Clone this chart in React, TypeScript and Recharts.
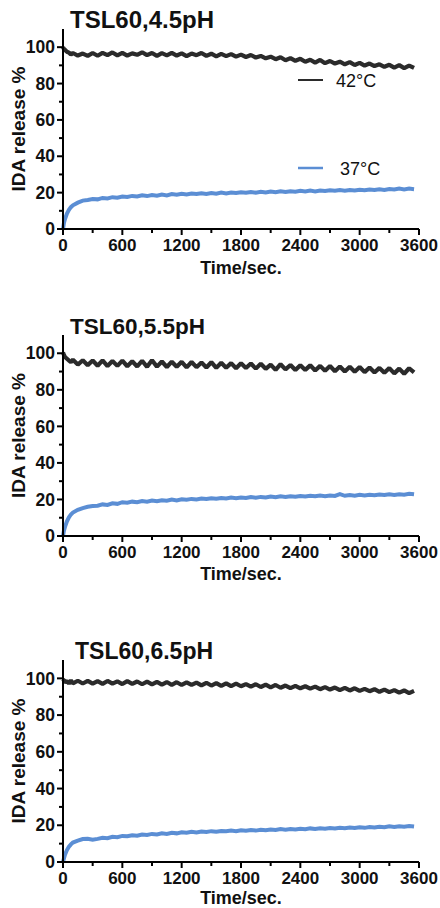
import React from 'react';
import { LineChart, Line, XAxis, YAxis } from 'recharts';

// time points (sec.)
const TIME = [
  0, 10, 20, 40, 60, 80, 100, 150, 200, 250,
  300, 350, 400, 450, 500, 550, 600, 650, 700, 750, 800, 850, 900, 950,
  1000, 1050, 1100, 1150, 1200, 1250, 1300, 1350, 1400, 1450, 1500, 1550,
  1600, 1650, 1700, 1750, 1800, 1850, 1900, 1950, 2000, 2050, 2100, 2150,
  2200, 2250, 2300, 2350, 2400, 2450, 2500, 2550, 2600, 2650, 2700, 2750,
  2800, 2850, 2900, 2950, 3000, 3050, 3100, 3150, 3200, 3250, 3300, 3350,
  3400, 3450, 3500, 3550,
];

const PH45_42 = [
  100, 99, 98.5, 97.5, 97, 96, 96.8, 95.4, 96.5, 95.2,
  96.8, 95.3, 96.9, 95.6, 97.1, 95.5, 96.9, 95.4, 96.6, 95.8, 97.2, 95.6, 96.8, 95.2,
  96.7, 95.5, 96.9, 95.4, 96.6, 95.1, 96.5, 95.6, 96.8, 95.2, 96.4, 95.0,
  96.3, 95.1, 96.2, 94.8, 95.9, 94.6, 95.7, 94.3, 95.2, 93.9, 94.8, 93.4,
  94.5, 92.8, 94.0, 92.5, 93.6, 92.0, 93.1, 91.5, 93.0, 91.2, 92.4, 91.0,
  92.0, 90.6, 91.8, 90.2, 91.4, 89.9, 91.0, 89.6, 90.6, 89.2, 90.3, 88.8,
  90.1, 88.5, 89.9, 88.6,
];
const PH45_37 = [
  0, 3.5, 5.5, 8.5, 10.5, 12, 13, 14.5, 15.6, 16.0,
  16.5, 16.3, 17.1, 16.8, 17.5, 17.2, 17.9, 17.6, 18.2, 17.9, 18.5, 18.1, 18.7, 18.3,
  18.9, 18.5, 19.2, 18.8, 19.4, 19.0, 19.5, 19.2, 19.7, 19.3, 19.8, 19.4,
  20.0, 19.6, 20.1, 19.8, 20.2, 19.9, 20.4, 20.0, 20.5, 20.1, 20.6, 20.2,
  20.7, 20.3, 20.8, 20.5, 21.0, 20.6, 21.1, 20.7, 21.2, 20.9, 21.3, 21.0,
  21.4, 21.1, 21.5, 21.2, 21.6, 21.3, 21.7, 21.4, 21.8, 21.5, 22.0, 21.7,
  22.3, 21.8, 22.2, 21.9,
];

const PH55_42 = [
  100.5, 99, 98, 97, 96, 95.2, 96.5, 93.8, 96.2, 93.5,
  96.0, 93.2, 96.1, 93.0, 95.8, 93.1, 96.0, 92.9, 95.6, 92.8, 95.9, 92.6, 96.2, 92.7,
  95.5, 92.5, 95.4, 92.6, 95.3, 92.3, 95.2, 92.4, 95.0, 92.2, 95.1, 92.0,
  94.8, 92.1, 94.6, 91.8, 94.5, 91.9, 94.4, 91.6, 94.3, 91.5, 93.8, 90.9,
  94.0, 91.2, 93.6, 90.8, 93.5, 90.9, 93.4, 90.6, 93.1, 90.4, 93.0, 90.2,
  92.8, 90.0, 92.6, 89.9, 92.5, 89.7, 92.2, 89.5, 92.0, 89.3, 91.9, 89.0,
  91.6, 88.8, 91.8, 89.5,
];
const PH55_37 = [
  0, 3, 5, 8, 10.2, 11.8, 12.8, 14.3, 15.3, 16.0,
  16.4, 16.6, 17.3, 17.0, 17.9, 17.6, 18.5, 18.2, 18.8, 18.5, 19.1, 18.8, 19.4, 19.0,
  19.6, 19.3, 19.9, 19.5, 20.1, 19.8, 20.3, 20.0, 20.5, 20.2, 20.7, 20.4,
  20.8, 20.5, 21.0, 20.7, 21.1, 20.8, 21.3, 21.0, 21.4, 21.1, 21.6, 21.2,
  21.7, 21.4, 21.8, 21.5, 21.9, 21.6, 22.0, 21.7, 22.1, 21.8, 22.2, 21.9,
  22.9, 22.0, 22.4, 22.1, 22.5, 22.2, 22.6, 22.3, 22.7, 22.4, 22.8, 22.5,
  22.9, 22.6, 23.1, 22.8,
];

const PH65_42 = [
  99.5, 98.8, 97.8, 98.6, 97.2, 98.9, 97.3, 98.7, 97.2, 98.6,
  97.1, 98.5, 97.0, 98.6, 97.1, 98.4, 96.9, 98.5, 97.0, 98.3, 96.8, 98.2, 96.7, 98.1,
  96.6, 98.0, 96.5, 97.9, 96.4, 97.8, 96.4, 97.7, 96.2, 97.6, 96.1, 97.4,
  95.9, 97.3, 95.8, 97.1, 95.7, 96.9, 95.5, 96.8, 95.3, 96.6, 95.1, 96.4,
  94.9, 96.1, 94.7, 95.9, 94.6, 95.7, 94.4, 95.5, 94.1, 95.2, 93.9, 95.0,
  93.6, 94.8, 93.4, 94.6, 93.2, 94.3, 93.0, 94.1, 92.7, 93.9, 92.5, 93.6,
  92.2, 93.4, 92.0, 93.2,
];
const PH65_37 = [
  0, 2, 4, 6.5, 8.3, 9.6, 10.6, 11.6, 12.5, 12.7,
  12.1, 12.6, 13.2, 13.0, 13.7, 13.5, 14.2, 14.0, 14.6, 14.3, 15.0, 14.7, 15.3, 15.0,
  15.6, 15.3, 15.9, 15.6, 16.2, 15.9, 16.4, 16.1, 16.6, 16.3, 16.8, 16.5,
  16.9, 16.7, 17.1, 16.8, 17.3, 17.0, 17.4, 17.1, 17.6, 17.3, 17.7, 17.4,
  17.9, 17.6, 18.0, 17.7, 18.1, 17.8, 18.3, 18.0, 18.4, 18.1, 18.5, 18.2,
  18.7, 18.4, 18.8, 18.5, 18.9, 18.6, 19.1, 18.8, 19.2, 18.9, 19.4, 19.1,
  19.5, 19.2, 19.6, 19.3,
];

const X_TICKS = [0, 300, 600, 900, 1200, 1500, 1800, 2100, 2400, 2700, 3000, 3300, 3600];
const Y_TICKS = [0, 10, 20, 30, 40, 50, 60, 70, 80, 90, 100];
const SERIES_NAMES = ['42°C', '37°C'];

const FONT = '"Liberation Sans", Arial, Helvetica, sans-serif';
const HOT = '#2b2b2b';
const COOL = '#5b8ed4';

const PANELS = [
  { title: 'TSL60,4.5pH', hot: PH45_42, cool: PH45_37, top: 29, plotH: 200, titleX: 70, titleSize: 24, xTitleY: 45 },
  { title: 'TSL60,5.5pH', hot: PH55_42, cool: PH55_37, top: 335, plotH: 201, titleX: 70, titleSize: 22.5, xTitleY: 44 },
  { title: 'TSL60,6.5pH', hot: PH65_42, cool: PH65_37, top: 660, plotH: 202, titleX: 75, titleSize: 23, xTitleY: 42 },
];

const XTick = (props: any) => {
  const { x, y, payload } = props;
  const ay = y - 11;
  const major = payload.value % 600 === 0;
  return (
    <g>
      <line x1={x} x2={x} y1={ay} y2={ay + (major ? 6 : 4)} stroke="#000" strokeWidth={2} />
      {major && (
        <text x={x} y={ay + 16} dy="0.355em" textAnchor="middle" fontFamily={FONT} fontWeight="bold" fontSize={17} fill="#111">
          {payload.value}
        </text>
      )}
    </g>
  );
};

const YTick = (props: any) => {
  const { x, y, payload } = props;
  const ax = x + 8;
  const major = payload.value % 20 === 0;
  return (
    <g>
      <line x1={ax} x2={ax - (major ? 6 : 4)} y1={y} y2={y} stroke="#000" strokeWidth={2} />
      {major && (
        <text x={ax - 8} y={y} dy="0.355em" textAnchor="end" fontFamily={FONT} fontWeight="bold" fontSize={17.5} fill="#111">
          {payload.value}
        </text>
      )}
    </g>
  );
};

const XTitle = (props: any) => {
  const vb = props.viewBox || { x: 63, y: 0, width: 356 };
  return (
    <text x={vb.x + vb.width / 2} y={vb.y + props.offsetY} textAnchor="middle" fontFamily={FONT} fontWeight="bold" fontSize={18} fill="#111">
      Time/sec.
    </text>
  );
};

const YTitle = (props: any) => {
  const vb = props.viewBox || { x: 0, y: 0, height: 200 };
  const cx = vb.x + 25;
  const cy = vb.y + vb.height / 2;
  return (
    <text x={cx} y={cy} transform={`rotate(-90 ${cx} ${cy})`} textAnchor="middle" fontFamily={FONT} fontWeight="bold" fontSize={19} fill="#111">
      IDA release %
    </text>
  );
};

const Panel = ({ p }: { p: typeof PANELS[number] }) => {
  const data = TIME.map((t, i) => ({ t, hot: p.hot[i], cool: p.cool[i] }));
  const h = 29 + p.plotH + 60;
  return (
    <div style={{ position: 'absolute', left: 0, top: p.top - 29, width: 440, height: h }}>
      <LineChart width={440} height={h} data={data} margin={{ top: 29, right: 21, bottom: 15, left: 0 }}>
        <XAxis
          type="number"
          dataKey="t"
          domain={[0, 3600]}
          ticks={X_TICKS}
          interval={0}
          tick={<XTick />}
          tickLine={false}
          tickSize={6}
          tickMargin={5}
          height={45}
          axisLine={{ stroke: '#000', strokeWidth: 2 }}
          label={<XTitle offsetY={p.xTitleY} />}
        />
        <YAxis
          type="number"
          domain={[0, 110]}
          ticks={Y_TICKS}
          interval={0}
          tick={<YTick />}
          tickLine={false}
          tickSize={6}
          tickMargin={2}
          width={63}
          axisLine={{ stroke: '#000', strokeWidth: 2 }}
          label={<YTitle />}
        />
        <Line type="linear" dataKey="hot" name={SERIES_NAMES[0]} stroke={HOT} strokeWidth={4.2} strokeLinejoin="bevel" dot={false} isAnimationActive={false} />
        <Line type="linear" dataKey="cool" name={SERIES_NAMES[1]} stroke={COOL} strokeWidth={4} dot={false} isAnimationActive={false} />
      </LineChart>
    </div>
  );
};

export default function App() {
  return (
    <div style={{ position: 'absolute', left: 0, top: 0, width: 440, height: 908, overflow: 'hidden', background: '#fff' }}>
      {PANELS.map((p) => (
        <Panel key={p.title} p={p} />
      ))}
      <svg width={440} height={908} style={{ position: 'absolute', left: 0, top: 0, pointerEvents: 'none' }}>
        {PANELS.map((p) => (
          <text key={p.title} x={p.titleX} y={p.top - 1} fontFamily={FONT} fontWeight="bold" fontSize={p.titleSize} fill="#111">
            {p.title}
          </text>
        ))}
        <line x1={298} x2={323} y1={80} y2={80} stroke={HOT} strokeWidth={2} />
        <text x={336} y={87} fontFamily={FONT} fontSize={18} fill="#111">{SERIES_NAMES[0]}</text>
        <line x1={298} x2={323} y1={168} y2={168} stroke={COOL} strokeWidth={2.5} />
        <text x={340} y={175} fontFamily={FONT} fontSize={18} fill="#111">{SERIES_NAMES[1]}</text>
      </svg>
    </div>
  );
}
